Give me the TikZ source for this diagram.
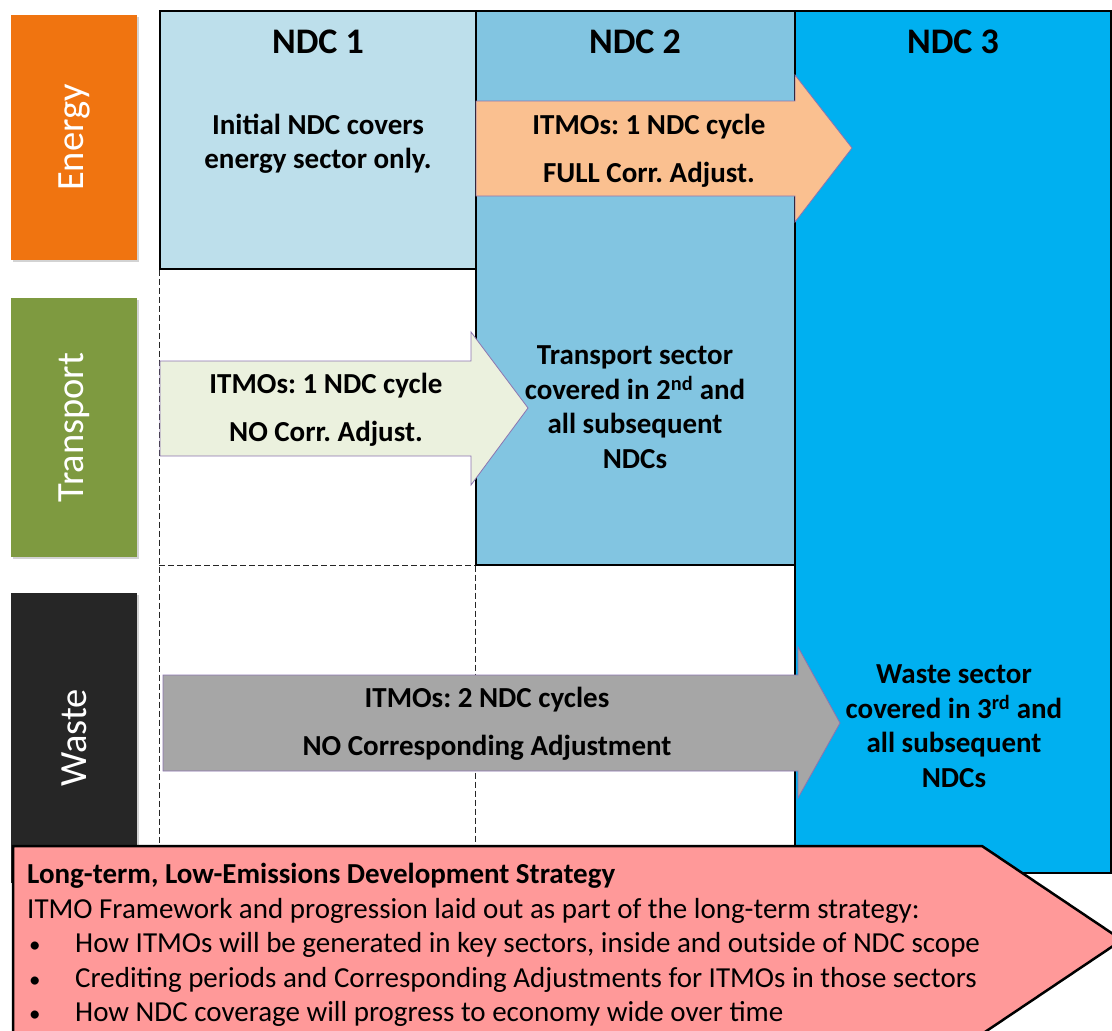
\documentclass[tikz,border=0pt]{standalone}
\usepackage{fontspec}
\setmainfont{Carlito}
\usepackage{xcolor}
\usepackage{tikz}
\usetikzlibrary{arrows,shapes,backgrounds,fit,shadows}

\definecolor{energyorange}{HTML}{F07410}
\definecolor{transportgreen}{HTML}{7E9A40}
\definecolor{wastegrey}{HTML}{262626}
\definecolor{ndcone}{HTML}{BDDFEB}
\definecolor{ndctwo}{HTML}{82C5E1}
\definecolor{ndcthree}{HTML}{00B0F0}
\definecolor{itmoorange}{HTML}{FAC090}
\definecolor{itmogreen}{HTML}{EBF1DE}
\definecolor{itmogrey}{HTML}{A6A6A6}
\definecolor{ltsred}{HTML}{FF9999}
\definecolor{arrowedge}{HTML}{8B74B0}

\frenchspacing
\newcommand{\ltsbullet}{\hspace*{2pt}\makebox[46pt][l]{\fontsize{23}{23}\selectfont\textbullet}}

\begin{document}
\begin{tikzpicture}[x=1pt,y=-1pt]
      \tikzstyle{sector}=[rotate=90, text=white, inner sep=0pt, minimum height=126,
        font=\fontsize{38.5}{42}\selectfont, drop shadow={opacity=0.35}]
      \tikzstyle{ndc_box}=[draw=black, line width=1.2pt, inner sep=0pt]
      \tikzstyle{ndc_title}=[font=\bfseries\fontsize{36}{40}\selectfont]
      \tikzstyle{ndc_text}=[align=center, font=\bfseries\fontsize{29}{34.5}\selectfont]
      \tikzstyle{itmo_arrow}=[draw=arrowedge, line width=0.8pt, line join=miter]
      \tikzstyle{itmo_text}=[align=center, font=\bfseries\fontsize{29}{47.5}\selectfont]
      \tikzstyle{grid_line}=[dash pattern=on 6pt off 3pt, line width=0.8pt, draw=black!85]
      \tikzstyle{lts_arrow}=[draw=black, line width=2.5pt, fill=ltsred, line join=miter]

      \useasboundingbox (0,0) rectangle (1112,1031);
      \clip (0,0) rectangle (1112,1031);

      % NDC columns
      \node [ndc_box, fill=ndcthree, minimum width=316, minimum height=862] (ndc3) at (953,442) {};
      \node [ndc_box, fill=ndctwo, minimum width=319, minimum height=554] (ndc2) at (635.5,288) {};
      \node [ndc_box, fill=ndcone, minimum width=316, minimum height=258] (ndc1) at (318,140) {};

      \node [ndc_title] (title1) at (318,42) {NDC 1};
      \node [ndc_title] (title2) at (635,42) {NDC 2};
      \node [ndc_title] (title3) at (953,42) {NDC 3};

      \coordinate (lts_nw) at (13,846);
      \draw [grid_line] (ndc1.south west) -- (ndc1.south west |- lts_nw);
      \draw [grid_line] (ndc1.south west |- ndc2.south) -- (ndc2.south west);
      \draw [grid_line] (ndc2.south west) -- (ndc2.south west |- lts_nw);

      \node [ndc_text] (energy_cover) at (318,144) {Initial NDC covers\\energy sector only.};
      \node [ndc_text] (transport_cover) at (635,407) {Transport sector\\covered in 2\textsuperscript{nd} and\\all subsequent\\NDCs};
      \node [ndc_text] (waste_cover) at (954,726) {Waste sector\\covered in 3\textsuperscript{rd} and\\all subsequent\\NDCs};

      % ITMO arrows
      \draw [itmo_arrow, fill=itmoorange] (476,101) -- (795,101) -- (795,75) -- (852,148)
        -- (795,222) -- (795,196) -- (476,196) -- cycle;
      \node [itmo_text] (energy_itmo) at (649,151) {ITMOs: 1 NDC cycle\\FULL Corr. Adjust.};

      \draw [itmo_arrow, fill=itmogreen] (160,361) -- (471,361) -- (471,332) -- (528,408)
        -- (471,485) -- (471,456) -- (160,456) -- cycle;
      \node [itmo_text] (transport_itmo) at (326,410) {ITMOs: 1 NDC cycle\\NO Corr. Adjust.};

      \draw [itmo_arrow, fill=itmogrey] (163,675) -- (798,675) -- (798,647) -- (840,723)
        -- (798,798) -- (798,771) -- (163,771) -- cycle;
      \node [itmo_text] (waste_itmo) at (487,724) {ITMOs: 2 NDC cycles\\NO Corresponding Adjustment};

      % sectors
      \node [sector, fill=energyorange, minimum width=245] (energy) at (74,137.5) {Energy};
      \node [sector, fill=transportgreen, minimum width=259] (transport) at (74,427.5) {Transport};
      \node [sector, fill=wastegrey, minimum width=290] (waste) at (74,738) {Waste};

      % long-term strategy
      \draw [lts_arrow] (lts_nw) -- (982,846) -- (1122,940) -- (982,1034) -- (13,1034) -- cycle;
      \node [anchor=north west, align=left, inner sep=0pt, font=\fontsize{29}{34.5}\selectfont] (lts_text) at (27,863)
        {\textbf{Long-term, Low-Emissions Development Strategy}\\
         ITMO Framework and progression laid out as part of the long-term strategy:\\
         \ltsbullet How ITMOs will be generated in key sectors, inside and outside of NDC scope\\
         \ltsbullet Crediting periods and Corresponding Adjustments for ITMOs in those sectors\\
         \ltsbullet How NDC coverage will progress to economy wide over time};
    \end{tikzpicture}
\end{document}
